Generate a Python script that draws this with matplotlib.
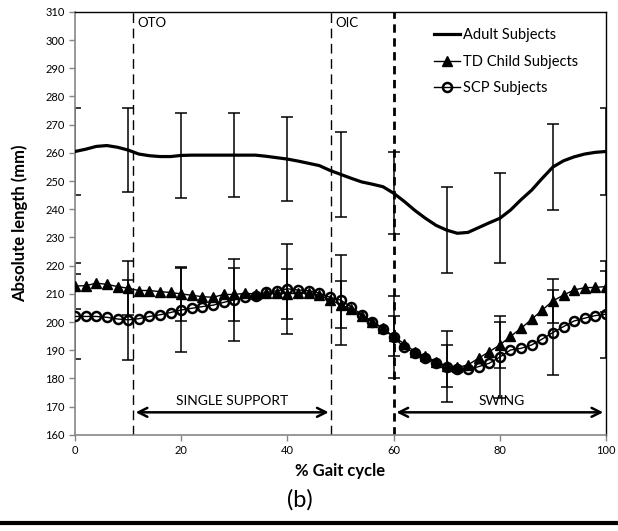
import numpy as np
import matplotlib
matplotlib.use('Agg')
import matplotlib.pyplot as plt
from matplotlib.lines import Line2D

plt.rcParams['font.family'] = ['Lato', 'DejaVu Sans']

# % gait cycle, every 2%
gait = list(range(0, 101, 2))

adult = [260.5, 261.3, 262.3, 262.6, 262.0, 261.0, 259.6, 259.0, 258.7, 258.7,
         259.1, 259.2, 259.2, 259.2, 259.2, 259.2, 259.2, 259.2, 258.8, 258.3,
         257.8, 257.1, 256.3, 255.5, 253.8, 252.4, 251.0, 249.7, 248.9, 248.0,
         245.7, 242.8, 239.6, 236.8, 234.3, 232.6, 231.5, 231.8, 233.5, 235.2,
         236.8, 239.7, 243.4, 246.8, 251.0, 255.0, 257.2, 258.6, 259.6, 260.2,
         260.5]

td_child = [212.8, 212.9, 213.8, 213.4, 212.6, 212.0, 211.2, 211.2, 210.8, 210.5,
            210.0, 209.5, 209.0, 208.8, 209.8, 209.8, 210.2, 210.0, 210.2, 210.2,
            210.1, 210.2, 210.2, 209.5, 208.0, 206.2, 204.6, 202.2, 200.2, 197.8,
            194.9, 192.3, 189.5, 187.8, 186.0, 184.4, 183.9, 184.8, 187.2, 189.5,
            191.9, 194.9, 197.8, 201.0, 204.3, 207.5, 209.6, 211.4, 212.2, 212.3,
            212.6]

scp = [202.0, 202.0, 202.0, 201.7, 201.1, 200.8, 201.2, 202.0, 202.6, 203.4,
       204.3, 204.9, 205.5, 206.0, 207.0, 207.9, 208.8, 209.2, 210.5, 211.1,
       211.8, 211.4, 211.1, 210.3, 208.8, 207.8, 205.4, 202.6, 200.2, 197.7,
       194.6, 191.1, 189.0, 187.4, 185.6, 184.2, 183.4, 183.3, 184.2, 185.4,
       187.6, 190.1, 190.7, 191.9, 194.0, 196.3, 198.4, 200.4, 201.4, 202.3,
       202.8]

# standard deviations at 0, 10, ..., 100 %
adult_sd = [15.5, 15.0, 15.0, 15.0, 15.0, 15.0, 14.5, 15.3, 16.0, 15.4, 15.5]
td_sd = [8.0, 9.5, 9.7, 9.5, 8.9, 8.2, 7.1, 7.4, 8.3, 7.8, 8.9]
scp_sd = [15.2, 14.2, 14.8, 14.6, 16.0, 16.0, 14.5, 12.5, 14.5, 15.0, 15.4]

# gait events
events = {'OTO': 10.9, 'OIC': 48.3, 'swing': 60.0}

fig = plt.figure(figsize=(6.18, 5.31), dpi=100)
ax = fig.add_axes([0.1214, 0.181, 0.8592, 0.7966])

x = np.array(gait)
err_idx = slice(0, None, 5)

ax.plot(x, adult, color='black', lw=2.3, zorder=3, label='Adult Subjects')
ax.errorbar(x[err_idx], np.array(adult)[err_idx], yerr=adult_sd, fmt='none',
            ecolor='black', elinewidth=1.1, capsize=4.5, capthick=1.1, zorder=2)

ax.plot(x, td_child, color='black', lw=1.0, marker='^', markersize=6.5,
        zorder=4, label='TD Child Subjects')
ax.errorbar(x[err_idx], np.array(td_child)[err_idx], yerr=td_sd, fmt='none',
            ecolor='black', elinewidth=1.1, capsize=4.5, capthick=1.1, zorder=2)

ax.plot(x, scp, color='black', lw=1.0, marker='o', markersize=6.5,
        markerfacecolor='none', markeredgewidth=1.8, zorder=5, label='SCP Subjects')
ax.errorbar(x[err_idx], np.array(scp)[err_idx], yerr=scp_sd, fmt='none',
            ecolor='black', elinewidth=1.1, capsize=4.5, capthick=1.1, zorder=2)

# event lines
ax.axvline(events['OTO'], color='black', lw=1.0, ls=(0, (7, 4)), zorder=1)
ax.axvline(events['OIC'], color='black', lw=1.0, ls=(0, (7, 4)), zorder=1)
ax.axvline(events['swing'], color='black', lw=2.0, ls=(0, (3, 2)), zorder=1)
ax.text(events['OTO'] + 0.8, 306.0, 'OTO', fontsize=9.5, va='center', ha='left')
ax.text(events['OIC'] + 0.8, 306.0, 'OIC', fontsize=9.5, va='center', ha='left')

# phase arrows
arrow = dict(arrowstyle='<->', color='black', lw=1.8, mutation_scale=16)
ax.annotate('', xy=(events['OTO'], 168), xytext=(events['OIC'], 168), arrowprops=arrow)
ax.annotate('', xy=(events['swing'], 168), xytext=(100, 168), arrowprops=arrow)
ax.text((events['OTO'] + events['OIC']) / 2, 172.0, 'SINGLE SUPPORT', fontsize=10,
        ha='center', va='center')
ax.text(80.3, 172.0, 'SWING', fontsize=10, ha='center', va='center')

ax.set_xlim(0, 100)
ax.set_ylim(160, 310)
ax.set_xticks(range(0, 101, 20))
ax.set_yticks(range(160, 311, 10))
ax.tick_params(axis='both', labelsize=8, color='#868686', length=4, width=1,
               direction='out')
for side in ['left', 'bottom']:
    ax.spines[side].set_color('#868686')
    ax.spines[side].set_linewidth(1.2)
for side in ['top', 'right']:
    ax.spines[side].set_color('black')
    ax.spines[side].set_linewidth(1.0)

ax.set_xlabel('% Gait cycle', fontsize=12, fontweight='bold', labelpad=5)
ax.set_ylabel('Absolute length (mm)', fontsize=12, fontweight='bold', labelpad=12)

ax.legend(loc='upper left', bbox_to_anchor=(0.665, 0.975), frameon=False,
          fontsize=10.5, handlelength=1.8, handletextpad=0.2, labelspacing=0.85,
          borderaxespad=0)

fig.text(0.485, 0.058, '(b)', fontsize=17, ha='center', va='center')
fig.add_artist(Line2D([0, 1], [0.016, 0.016], transform=fig.transFigure,
                      color='black', lw=3))

fig.savefig('out.png', dpi=100)
